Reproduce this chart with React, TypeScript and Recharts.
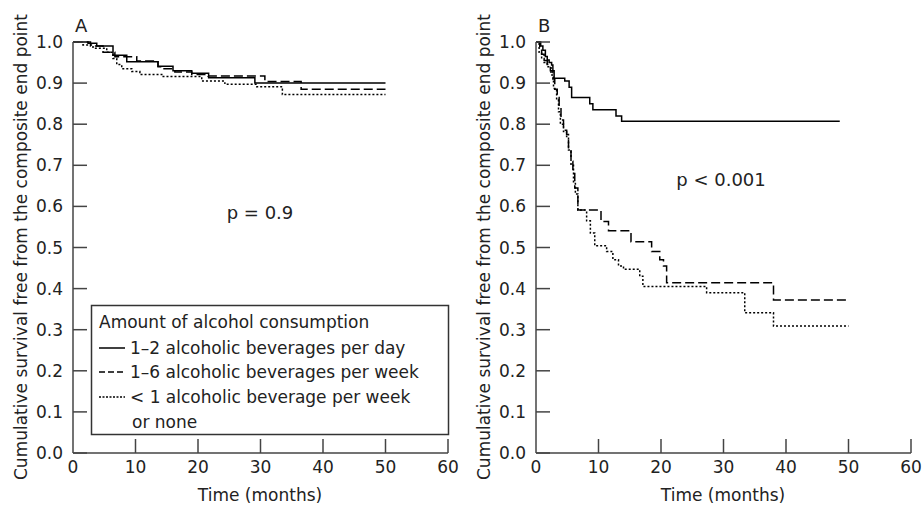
import React from 'react';
import { LineChart, Line, XAxis, YAxis } from 'recharts';

const FONT = '"DejaVu Sans", "Noto Sans", sans-serif';
const AXIS = '#444';
const PLOT_LEFT = 73;
const PLOT_BOTTOM = 453;

const xTicks = [0, 10, 20, 30, 40, 50, 60];
const yTicks = [0, 0.1, 0.2, 0.3, 0.4, 0.5, 0.6, 0.7, 0.8, 0.9, 1.0];

const yTitle = 'Cumulative survival free from the composite end point';
const xTitle = 'Time (months)';
const legendTitle = 'Amount of alcohol consumption';
const groupNames = [
  '1–2 alcoholic beverages per day',
  '1–6 alcoholic beverages per week',
  '< 1 alcoholic beverage per week',
];
const groupNameTail = 'or none';

// panel A (all patients)
const aDaily = [
  { t: 0, s: 1.0 }, { t: 2.4, s: 0.997 }, { t: 3.8, s: 0.99 }, { t: 6.4, s: 0.968 },
  { t: 8.6, s: 0.952 }, { t: 13.6, s: 0.941 }, { t: 16, s: 0.93 }, { t: 19, s: 0.924 },
  { t: 21.7, s: 0.913 }, { t: 29.1, s: 0.9 }, { t: 50, s: 0.9 },
];
const aWeekly = [
  { t: 0, s: 1.0 }, { t: 2.8, s: 0.99 }, { t: 4.8, s: 0.975 }, { t: 6.7, s: 0.964 },
  { t: 10.2, s: 0.954 }, { t: 13.6, s: 0.94 }, { t: 14.4, s: 0.935 }, { t: 16.3, s: 0.927 },
  { t: 19, s: 0.921 }, { t: 21.6, s: 0.917 }, { t: 30.7, s: 0.904 }, { t: 36.5, s: 0.885 },
  { t: 50, s: 0.885 },
];
const aNone = [
  { t: 0, s: 1.0 }, { t: 1.6, s: 0.993 }, { t: 3.2, s: 0.985 }, { t: 5.4, s: 0.975 },
  { t: 6.4, s: 0.96 }, { t: 7, s: 0.945 }, { t: 7.8, s: 0.935 }, { t: 9.4, s: 0.928 },
  { t: 10.7, s: 0.921 }, { t: 14.2, s: 0.916 }, { t: 20.6, s: 0.905 }, { t: 24.3, s: 0.897 },
  { t: 29.4, s: 0.891 }, { t: 33.5, s: 0.872 }, { t: 50, s: 0.872 },
];

// panel B
const bDaily = [
  { t: 0, s: 1.0 }, { t: 0.75, s: 0.99 }, { t: 1.1, s: 0.98 }, { t: 1.5, s: 0.965 },
  { t: 1.8, s: 0.956 }, { t: 2.1, s: 0.95 }, { t: 2.5, s: 0.944 }, { t: 2.7, s: 0.93 },
  { t: 2.9, s: 0.912 }, { t: 4.6, s: 0.905 }, { t: 5.3, s: 0.89 }, { t: 5.7, s: 0.865 },
  { t: 8.6, s: 0.85 }, { t: 9.1, s: 0.835 }, { t: 12.8, s: 0.82 }, { t: 13.7, s: 0.807 },
  { t: 48.6, s: 0.807 },
];
const bWeekly = [
  { t: 0, s: 1.0 }, { t: 0.6, s: 0.985 }, { t: 0.9, s: 0.97 }, { t: 1.3, s: 0.955 },
  { t: 1.8, s: 0.945 }, { t: 2.3, s: 0.93 }, { t: 2.7, s: 0.91 }, { t: 3.0, s: 0.885 },
  { t: 3.4, s: 0.865 }, { t: 3.7, s: 0.84 }, { t: 4.0, s: 0.81 }, { t: 4.4, s: 0.785 },
  { t: 4.9, s: 0.775 }, { t: 5.2, s: 0.74 }, { t: 5.6, s: 0.71 }, { t: 5.9, s: 0.68 },
  { t: 6.2, s: 0.645 }, { t: 6.7, s: 0.591 }, { t: 10.4, s: 0.563 }, { t: 11.6, s: 0.541 },
  { t: 15.2, s: 0.514 }, { t: 18.5, s: 0.49 }, { t: 19.8, s: 0.47 }, { t: 20.4, s: 0.455 },
  { t: 20.9, s: 0.414 }, { t: 38, s: 0.372 }, { t: 50, s: 0.372 },
];
const bNone = [
  { t: 0, s: 1.0 }, { t: 0.5, s: 0.975 }, { t: 0.9, s: 0.96 }, { t: 1.3, s: 0.95 },
  { t: 1.8, s: 0.94 }, { t: 2.4, s: 0.92 }, { t: 2.8, s: 0.887 }, { t: 3.3, s: 0.86 },
  { t: 3.6, s: 0.83 }, { t: 3.9, s: 0.8 }, { t: 4.4, s: 0.782 }, { t: 4.9, s: 0.77 },
  { t: 5.2, s: 0.737 }, { t: 5.6, s: 0.7 }, { t: 6.0, s: 0.66 }, { t: 6.3, s: 0.63 },
  { t: 6.7, s: 0.591 }, { t: 8.1, s: 0.565 }, { t: 8.7, s: 0.535 }, { t: 9.4, s: 0.504 },
  { t: 11.3, s: 0.49 }, { t: 12.3, s: 0.47 }, { t: 13.2, s: 0.455 }, { t: 14, s: 0.447 },
  { t: 16.6, s: 0.43 }, { t: 17.1, s: 0.405 }, { t: 27.3, s: 0.39 }, { t: 33.4, s: 0.341 },
  { t: 38, s: 0.309 }, { t: 50, s: 0.309 },
];

const dashes = [undefined, '9 4', '2 2'];
const legendDashes = [undefined, '6 3', '2 1.5'];

const YTick = (props: any) => {
  const { y, payload } = props;
  return (
    <g>
      <line x1={PLOT_LEFT} x2={PLOT_LEFT + 14} y1={y} y2={y} stroke={AXIS} strokeWidth={1.5} />
      <text x={PLOT_LEFT - 10} y={y + 6} textAnchor="end" fontSize={17} fontFamily={FONT} fill="#222">
        {payload.value.toFixed(1)}
      </text>
    </g>
  );
};

const XTick = (props: any) => {
  const { x, payload } = props;
  return (
    <g>
      {payload.value > 0 && (
        <line x1={x} x2={x} y1={PLOT_BOTTOM} y2={PLOT_BOTTOM - 14} stroke={AXIS} strokeWidth={1.5} />
      )}
      <text x={x} y={PLOT_BOTTOM + 20} textAnchor="middle" fontSize={17} fontFamily={FONT} fill="#222">
        {payload.value}
      </text>
    </g>
  );
};

const LegendBox = () => {
  const left = 91.5;
  const top = 305.5;
  const rowY = [348, 372, 397];
  return (
    <g fontFamily={FONT} fontSize={17} fill="#222">
      <rect x={left} y={top} width={357} height={129} fill="#fff" stroke="#333" strokeWidth={1.5} />
      <text x={99} y={328}>{legendTitle}</text>
      {groupNames.map((n, i) => (
        <g key={n}>
          <line x1={99} x2={125} y1={rowY[i]} y2={rowY[i]} stroke="#000" strokeWidth={1.5} strokeDasharray={legendDashes[i]} />
          <text x={130} y={rowY[i] + 6}>{n}</text>
        </g>
      ))}
      <text x={132} y={428}>{groupNameTail}</text>
    </g>
  );
};

type Pt = { t: number; s: number };
type PanelProps = {
  letter: string;
  pText: string;
  pX: number;
  pY: number;
  daily: Pt[];
  weekly: Pt[];
  none: Pt[];
  legend?: boolean;
};

const Panel = ({ letter, pText, pX, pY, daily, weekly, none, legend }: PanelProps) => (
  <LineChart width={460} height={505} margin={{ top: 42, right: 12, bottom: 0, left: 0 }}>
    <XAxis
      dataKey="t"
      type="number"
      domain={[0, 60]}
      ticks={xTicks}
      allowDataOverflow
      tickLine={false}
      tickSize={0}
      height={52}
      stroke={AXIS}
      strokeWidth={1.5}
      tick={<XTick />}
    />
    <YAxis
      dataKey="s"
      type="number"
      domain={[0, 1]}
      ticks={yTicks}
      tickLine={false}
      tickSize={0}
      width={PLOT_LEFT}
      stroke={AXIS}
      strokeWidth={1.5}
      tick={<YTick />}
    />
    {[daily, weekly, none].map((d, i) => (
      <Line
        key={i}
        data={d}
        dataKey="s"
        name={groupNames[i]}
        type="stepAfter"
        stroke="#000"
        strokeWidth={1.5}
        strokeDasharray={dashes[i]}
        dot={false}
        activeDot={false}
        isAnimationActive={false}
      />
    ))}
    {legend && <LegendBox />}
    <text x={75} y={32} fontSize={18} fontFamily={FONT} fill="#222">{letter}</text>
    <text x={pX} y={pY} textAnchor="middle" fontSize={18} fontFamily={FONT} fill="#222">{pText}</text>
    <text
      x={21}
      y={247}
      transform="rotate(-90, 21, 247)"
      textAnchor="middle"
      dominantBaseline="central"
      fontSize={17}
      fontFamily={FONT}
      fill="#222"
    >
      {yTitle}
    </text>
    <text x={260} y={501} textAnchor="middle" fontSize={17} fontFamily={FONT} fill="#222">{xTitle}</text>
  </LineChart>
);

export default function App() {
  return (
    <div style={{ position: 'absolute', left: 0, top: 0, width: 923, height: 505, background: '#fff' }}>
      <div style={{ position: 'absolute', left: 0, top: 0 }}>
        <Panel letter="A" pText="p = 0.9" pX={260} pY={219} daily={aDaily} weekly={aWeekly} none={aNone} legend />
      </div>
      <div style={{ position: 'absolute', left: 463, top: 0 }}>
        <Panel letter="B" pText="p < 0.001" pX={258} pY={186} daily={bDaily} weekly={bWeekly} none={bNone} />
      </div>
    </div>
  );
}
